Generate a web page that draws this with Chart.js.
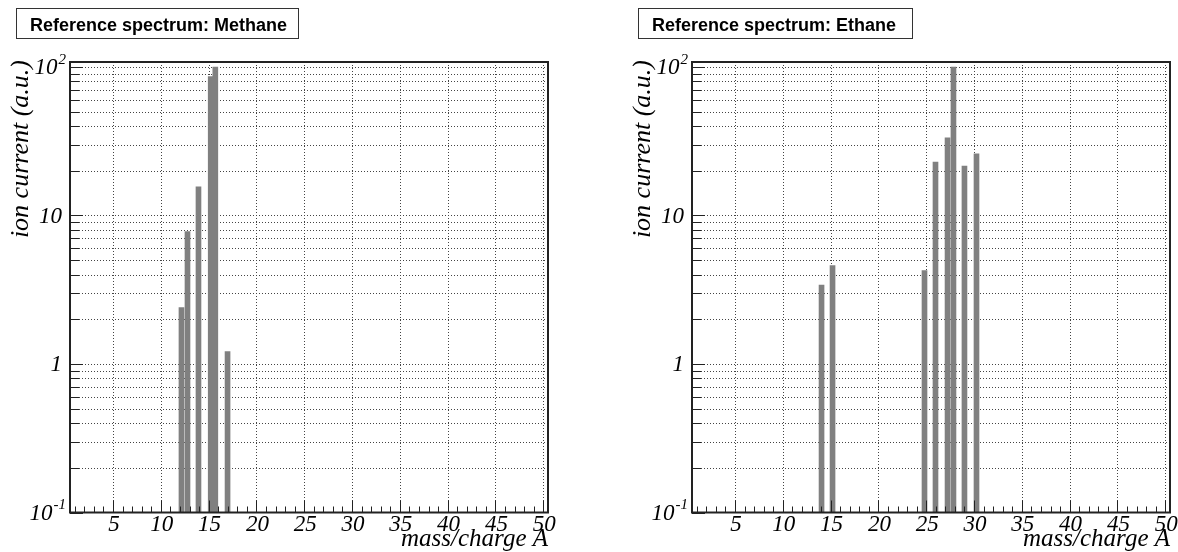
<!DOCTYPE html>
<html lang="en">
<head>
  <meta charset="UTF-8">
  <title>Reference spectra</title>
  <script src="https://cdn.jsdelivr.net/npm/chart.js"></script>
  <style>
    body {
      margin: 0;
      background: #fff;
      overflow: hidden;
    }
    .panel {
      position: absolute;
      top: 0;
    }
  </style>
</head>
<body>
  <canvas id="methane" class="panel" width="589" height="552" style="left:0"></canvas>
  <canvas id="ethane" class="panel" width="556" height="552" style="left:622px"></canvas>

  <script>
    // Peak positions on the m/z axis and their ion currents (a.u.)
    const methaneMass = [12.16, 12.79, 13.94, 15.22, 15.70, 16.98];
    const methaneCurrent = [2.4, 7.8, 15.6, 86, 100, 1.21];

    const ethaneMass = [14.05, 15.20, 24.82, 25.97, 27.23, 27.85, 29.0, 30.26];
    const ethaneCurrent = [3.4, 4.6, 4.25, 22.9, 33.3, 100, 21.5, 26.0];

    // axis labels
    const xTickValues = [5, 10, 15, 20, 25, 30, 35, 40, 45, 50];
    const xTickLabels = ['5', '10', '15', '20', '25', '30', '35', '40', '45', '50'];
    const yTickValues = [0.1, 1, 10, 100];
    const yTickBase = ['10', '1', '10', '10'];
    const yTickExp = ['-1', '', '', '2'];

    const SERIF = '"Liberation Serif", "Times New Roman", serif';
    const SANS = '"Liberation Sans", Arial, sans-serif';

    // grid, inward ticks, frame and all text are drawn here
    const rootStyle = {
      id: 'rootStyle',
      beforeDatasetsDraw(chart) {
        const { ctx, chartArea: a, scales: { x, y } } = chart;
        ctx.save();
        ctx.strokeStyle = '#444';
        ctx.lineWidth = 1;
        ctx.setLineDash([1, 2]);
        ctx.beginPath();
        for (let d = 0.1; d < 150; d *= 10) {
          for (let m = 1; m <= 9; m++) {
            const v = m * d;
            if (v > y.max || v <= y.min * 1.01) continue;
            const py = Math.round(y.getPixelForValue(v)) + 0.5;
            ctx.moveTo(a.left, py);
            ctx.lineTo(a.right, py);
          }
        }
        xTickValues.forEach(v => {
          const px = Math.round(x.getPixelForValue(v)) + 0.5;
          ctx.moveTo(px, a.top);
          ctx.lineTo(px, a.bottom);
        });
        ctx.stroke();
        ctx.restore();
      },
      afterDatasetsDraw(chart, args, opts) {
        const { ctx, chartArea: a, scales: { x, y } } = chart;
        ctx.save();
        ctx.strokeStyle = '#222';
        ctx.lineWidth = 1;
        ctx.setLineDash([]);

        // y ticks, pointing into the frame
        ctx.beginPath();
        for (let d = 0.1; d < 150; d *= 10) {
          for (let m = 1; m <= 9; m++) {
            const v = m * d;
            if (v > y.max) continue;
            const py = Math.round(y.getPixelForValue(v)) + 0.5;
            const len = m === 1 ? 13 : 9;
            ctx.moveTo(a.left, py);
            ctx.lineTo(a.left + len, py);
          }
        }
        // x ticks, every unit, longer at multiples of 5
        for (let v = 1; v <= 50; v++) {
          const px = Math.round(x.getPixelForValue(v)) + 0.5;
          const len = v % 5 === 0 ? 12 : 6;
          ctx.moveTo(px, a.bottom);
          ctx.lineTo(px, a.bottom - len);
        }
        ctx.stroke();

        // frame
        ctx.lineWidth = 2;
        ctx.strokeRect(a.left, a.top, a.right - a.left, a.bottom - a.top);

        ctx.fillStyle = '#000';

        // x tick labels
        ctx.font = 'italic 23px ' + SERIF;
        ctx.textAlign = 'center';
        ctx.textBaseline = 'top';
        xTickValues.forEach((v, i) => {
          ctx.fillText(xTickLabels[i], x.getPixelForValue(v) + 1, a.bottom + 1);
        });

        // y tick labels with exponents
        ctx.textBaseline = 'middle';
        ctx.textAlign = 'left';
        yTickValues.forEach((v, i) => {
          const py = y.getPixelForValue(v) + 1;
          ctx.font = 'italic 23px ' + SERIF;
          const wb = ctx.measureText(yTickBase[i]).width;
          ctx.font = 'italic 15px ' + SERIF;
          const we = yTickExp[i] ? ctx.measureText(yTickExp[i]).width : 0;
          const x0 = a.left - (we ? 5 : 8) - wb - we;
          ctx.font = 'italic 23px ' + SERIF;
          ctx.fillText(yTickBase[i], x0, py);
          if (yTickExp[i]) {
            ctx.font = 'italic 15px ' + SERIF;
            ctx.fillText(yTickExp[i], x0 + wb + 1, py - 8);
          }
        });

        // axis titles
        ctx.font = 'italic 25px ' + SERIF;
        ctx.textAlign = 'right';
        ctx.textBaseline = 'alphabetic';
        ctx.fillText('mass/charge A', a.right, 546);

        ctx.save();
        ctx.translate(28, a.top - 2);
        ctx.rotate(-Math.PI / 2);
        ctx.font = 'italic 26px ' + SERIF;
        ctx.textAlign = 'right';
        ctx.fillText('ion current (a.u.)', 0, 0);
        ctx.restore();

        // title box
        ctx.fillStyle = '#fff';
        ctx.fillRect(16, 8, opts.boxWidth, 30);
        ctx.lineWidth = 1;
        ctx.strokeStyle = '#333';
        ctx.strokeRect(16.5, 8.5, opts.boxWidth, 30);
        ctx.fillStyle = '#000';
        ctx.font = 'bold 18px ' + SANS;
        ctx.textAlign = 'left';
        ctx.fillText(opts.title, 30, 31);

        ctx.restore();
      }
    };

    function makePanel(id, title, boxWidth, rightPad, masses, currents) {
      return new Chart(document.getElementById(id), {
        type: 'bar',
        data: {
          datasets: [{
            data: masses.map((m, i) => ({ x: m, y: currents[i] })),
            backgroundColor: '#808080',
            borderWidth: 0,
            barThickness: 5
          }]
        },
        options: {
          responsive: false,
          animation: false,
          devicePixelRatio: 1,
          layout: { padding: { left: 70, right: rightPad, top: 62, bottom: 39.5 } },
          scales: {
            x: { type: 'linear', min: 0.5, max: 50.5, offset: false, display: false },
            y: { type: 'logarithmic', min: 0.1, max: 108, display: false }
          },
          plugins: {
            legend: { display: false },
            tooltip: { enabled: false },
            rootStyle: { title: title, boxWidth: boxWidth }
          }
        },
        plugins: [rootStyle]
      });
    }

    makePanel('methane', 'Reference spectrum: Methane', 282, 41, methaneMass, methaneCurrent);
    makePanel('ethane', 'Reference spectrum: Ethane', 274, 8, ethaneMass, ethaneCurrent);
  </script>
</body>
</html>
